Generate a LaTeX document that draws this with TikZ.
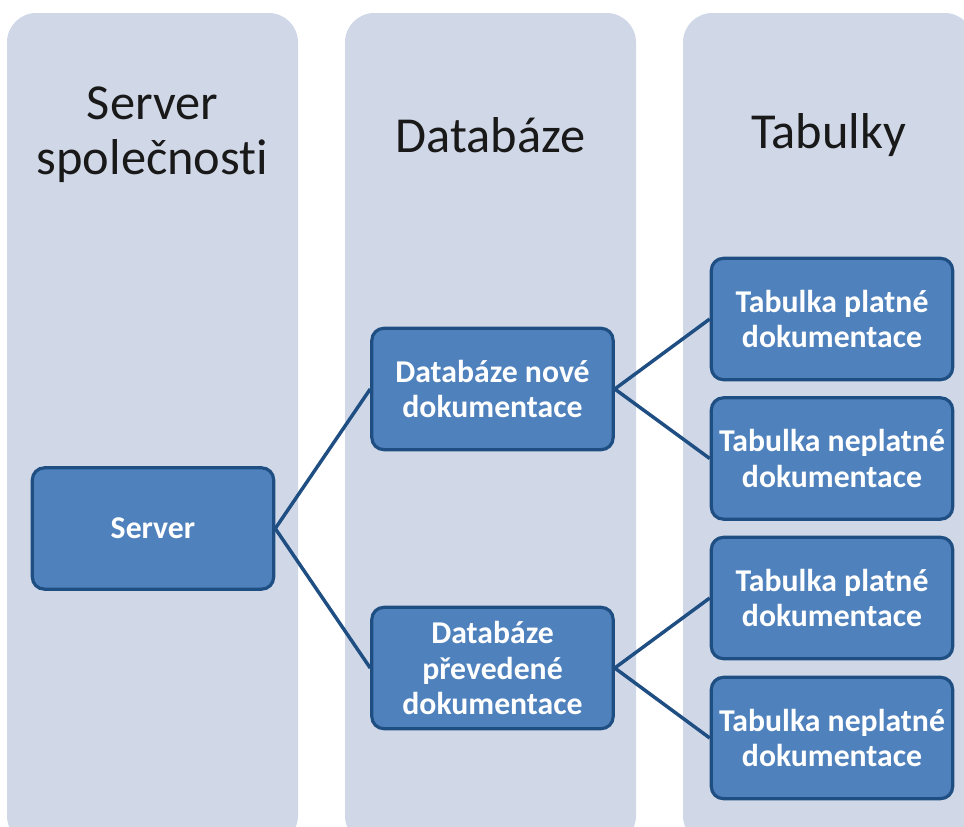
\documentclass[tikz,border=0pt]{standalone}
\usepackage{fontspec}
\setmainfont[Ligatures={NoCommon,NoRequired,NoContextual},RawFeature={-calt}]{Carlito}
\definecolor{lane}{HTML}{D0D8E8}
\definecolor{boxfill}{HTML}{4F81BD}
\definecolor{boxline}{HTML}{1F4E82}
\begin{document}
\begin{tikzpicture}[x=0.75pt,y=-0.75pt,
  lanebg/.style={fill=lane,draw=none,rounded corners=22pt},
  header/.style={align=center,text=black!90,font=\fontsize{37.8}{41.5}\selectfont},
  item/.style={draw=boxline,line width=2.4pt,fill=boxfill,rounded corners=9pt,
    minimum width=181pt,minimum height=91pt,align=center,text=white,inner sep=0pt,
    font=\bfseries\fontsize{23.8}{26.5}\selectfont},
  link/.style={draw=boxline,line width=2.6pt}]
  \useasboundingbox (0,0) rectangle (964,826);
  % background lanes
  \path[lanebg] (7,13) rectangle (298,845);
  \path[lanebg] (345,13) rectangle (636,845);
  \path[lanebg] (683,13) rectangle (974,845);
  % lane headings
  \node[header] (h1) at (152.5,135) {Server\\společnost\kern0pt i};
  \node[header] (h2) at (490.5,135) {Databáze};
  \node[header] (h3) at (828.5,135) {Tabulky};
  % hierarchy boxes
  \node[item] (srv) at (153,528.5) {Server};
  \node[item] (dbn) at (492.5,389) {Databáze nové\\dokumentace};
  \node[item] (dbp) at (492.5,668) {Databáze\\převedené\\dokumentace};
  \node[item] (t1) at (832,319) {Tabulka platné\\dokumentace};
  \node[item] (t2) at (832,458.5) {Tabulka neplatné\\dokumentace};
  \node[item] (t3) at (832,598) {Tabulka platné\\dokumentace};
  \node[item] (t4) at (832,738) {Tabulka neplatné\\dokumentace};
  % connectors
  \path[link] (srv.east) -- (dbn.west);
  \path[link] (srv.east) -- (dbp.west);
  \path[link] (dbn.east) -- (t1.west);
  \path[link] (dbn.east) -- (t2.west);
  \path[link] (dbp.east) -- (t3.west);
  \path[link] (dbp.east) -- (t4.west);
\end{tikzpicture}
\end{document}
